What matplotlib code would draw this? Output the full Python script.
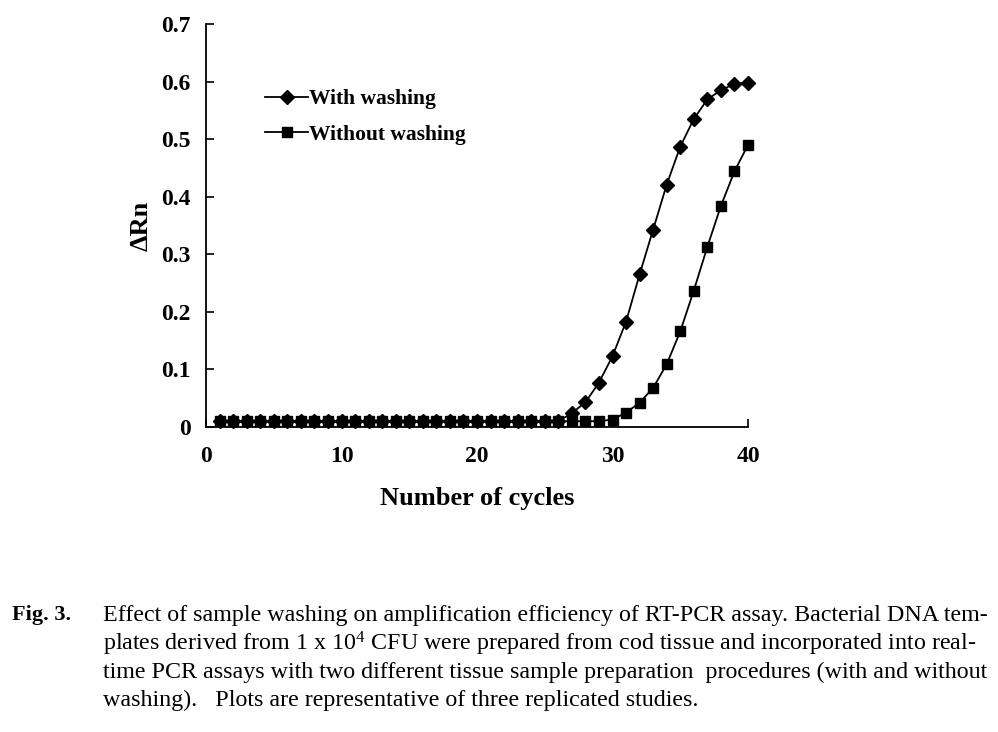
import matplotlib
matplotlib.use("Agg")
import matplotlib.pyplot as plt
import numpy as np

plt.rcParams['font.family'] = ['Liberation Serif', 'DejaVu Serif']
plt.rcParams['mathtext.fontset'] = 'custom'
plt.rcParams['mathtext.rm'] = 'Liberation Serif'
plt.rcParams['mathtext.default'] = 'regular'

cycles = list(range(1, 41))
with_washing = [0.01] * 26 + [0.024, 0.043, 0.077, 0.123, 0.183, 0.265, 0.343,
                              0.421, 0.487, 0.535, 0.569, 0.585, 0.596, 0.598]
without_washing = [0.01] * 29 + [0.013, 0.025, 0.042, 0.068, 0.109, 0.166,
                                 0.237, 0.313, 0.384, 0.444, 0.490]
series_labels = ["With washing", "Without washing"]
x_ticks = [0, 10, 20, 30, 40]
y_ticks = [0, 0.1, 0.2, 0.3, 0.4, 0.5, 0.6, 0.7]
y_tick_labels = ["0", "0.1", "0.2", "0.3", "0.4", "0.5", "0.6", "0.7"]

caption_lines = [
    "Effect of sample washing on amplification efficiency of RT-PCR assay. Bacterial DNA tem-",
    "plates derived from 1 x 10$^{4}$ CFU were prepared from cod tissue and incorporated into real-",
    "time PCR assays with two different tissue sample preparation  procedures (with and without",
    "washing).   Plots are representative of three replicated studies.",
]

fig = plt.figure(figsize=(9.98, 7.32), dpi=100)
ax = fig.add_axes([206 / 998, 1 - 427 / 732, (748 - 206) / 998, (427 - 24) / 732])

l2, = ax.plot(cycles, without_washing, color='black', lw=1.3, marker='s', ms=7.5,
              zorder=3, label=series_labels[1], clip_on=False)
l1, = ax.plot(cycles, with_washing, color='black', lw=1.3, marker='D', ms=6.8,
              zorder=4, label=series_labels[0], clip_on=False)

ax.set_xlim(0, 40)
ax.set_ylim(0, 0.7)
ax.set_xticks(x_ticks)
ax.set_yticks(y_ticks)
ax.set_yticklabels(y_tick_labels)
ax.spines['top'].set_visible(False)
ax.spines['right'].set_visible(False)
for s in ['left', 'bottom']:
    ax.spines[s].set_linewidth(1.3)
ax.tick_params(direction='in', length=6, width=1.2, labelsize=17)
ax.tick_params(axis='x', pad=14)
ax.tick_params(axis='y', pad=11)
for lab in ax.get_xticklabels() + ax.get_yticklabels():
    lab.set_fontweight('bold')

ax.set_xlabel("Number of cycles", fontsize=19, fontweight='bold', labelpad=14)
ax.set_ylabel("\u0394Rn", fontsize=19, fontweight='bold', labelpad=6.5)

leg = ax.legend(handles=[l1, l2], loc='upper left',
                bbox_to_anchor=(265 / 998, 1 - 89 / 732), bbox_transform=fig.transFigure,
                frameon=False, fontsize=15.5, handlelength=2.0, handletextpad=0.05,
                borderpad=0, borderaxespad=0, labelspacing=0.72)
for t in leg.get_texts():
    t.set_fontweight('bold')

fig.text(12 / 998, 1 - 615 / 732, "Fig. 3.", fontsize=16, fontweight='bold',
         va='center', ha='left')
line_y = [615, 644, 672, 700]
for txt, yy in zip(caption_lines, line_y):
    fig.text(103 / 998, 1 - yy / 732, txt, fontsize=17.3, va='center', ha='left')

fig.savefig("out.png", dpi=100)
